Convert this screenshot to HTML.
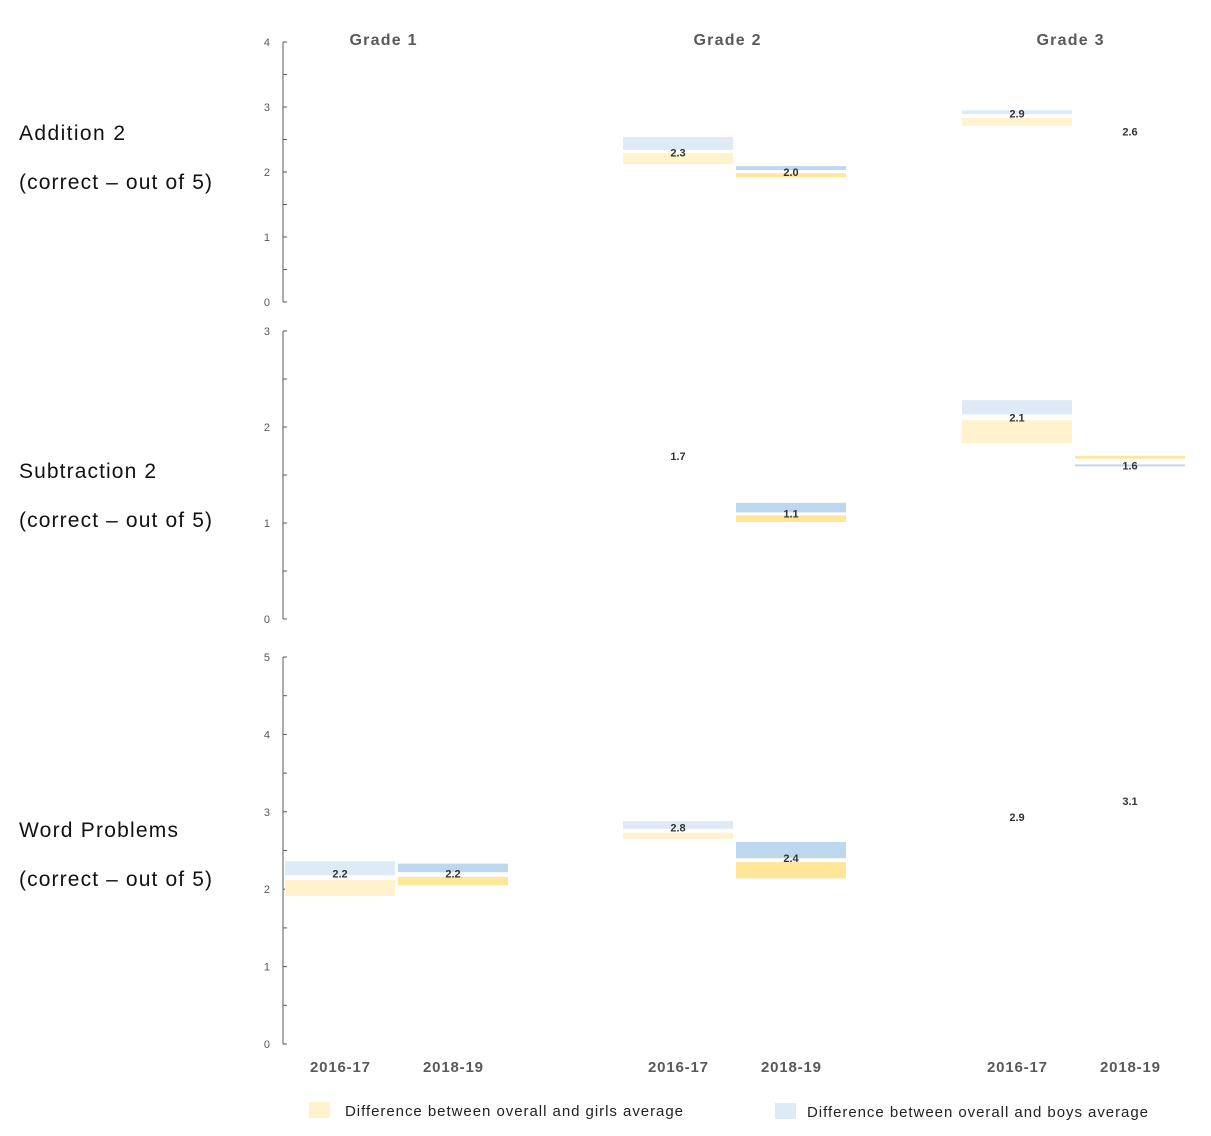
<!DOCTYPE html>
<html><head><meta charset="utf-8"><style>
body{margin:0;background:#fff;}
svg{display:block;font-family:"Liberation Sans",sans-serif;}
</style></head><body>
<svg id="chart" width="1211" height="1136">
<g font-size="21" fill="#111">
<text x="19" y="140" textLength="106">Addition 2</text>
<text x="19" y="189" textLength="193">(correct – out of 5)</text>
<text x="19" y="478" textLength="137">Subtraction 2</text>
<text x="19" y="527" textLength="193">(correct – out of 5)</text>
<text x="19" y="837" textLength="159">Word Problems</text>
<text x="19" y="886" textLength="193">(correct – out of 5)</text>
</g>
<g font-size="16" font-weight="bold" fill="#595959" text-anchor="middle">
<text x="383" y="45" textLength="67">Grade 1</text>
<text x="727" y="45" textLength="67">Grade 2</text>
<text x="1070" y="45" textLength="67">Grade 3</text>
</g>
<g id="plot"></g>
<g font-size="15" font-weight="bold" fill="#595959" text-anchor="middle">
<text x="340" y="1072" textLength="60">2016-17</text>
<text x="453" y="1072" textLength="60">2018-19</text>
<text x="678" y="1072" textLength="60">2016-17</text>
<text x="791" y="1072" textLength="60">2018-19</text>
<text x="1017" y="1072" textLength="60">2016-17</text>
<text x="1130" y="1072" textLength="60">2018-19</text>
</g>
<g font-size="15" fill="#222">
<rect x="309" y="1102" width="21" height="16" fill="#fff2cc"/>
<text x="345" y="1116" textLength="338">Difference between overall and girls average</text>
<rect x="775" y="1103" width="21" height="16" fill="#deebf7"/>
<text x="807" y="1117" textLength="341">Difference between overall and boys average</text>
</g>
</svg>
<script>
// panels
const panelNames = ["addition","subtraction","word-problems"];
const panelMax = [4,3,5];
const panelMinorStep = [0.5,0.5,0.5];
// bars: order per panel = g1-2016, g1-2018, g2-2016, g2-2018, g3-2016, g3-2018
const columnLabels = ["g1-2016","g1-2018","g2-2016","g2-2018","g3-2016","g3-2018"];
const overallValues = [
 [null,null,2.3,2.0,2.9,2.62],
 [null,null,1.70,1.1,2.1,1.6],
 [2.2,2.2,2.8,2.4,2.93,3.14]
];
const boysHigh = [
 [null,null,2.54,2.09,2.95,null],
 [null,null,null,1.21,2.28,1.61],
 [2.36,2.33,2.88,2.61,null,null]
];
const boysLow = [
 [null,null,2.34,2.03,2.89,null],
 [null,null,null,1.11,2.13,1.59],
 [2.18,2.22,2.78,2.40,null,null]
];
const girlsHigh = [
 [null,null,2.29,1.98,2.83,null],
 [null,null,null,1.08,2.07,1.70],
 [2.12,2.16,2.73,2.35,null,null]
];
const girlsLow = [
 [null,null,2.12,1.92,2.71,null],
 [null,null,null,1.01,1.83,1.67],
 [1.91,2.05,2.65,2.14,null,null]
];
const labelText = [
 [null,null,"2.3","2.0","2.9","2.6"],
 [null,null,"1.7","1.1","2.1","1.6"],
 ["2.2","2.2","2.8","2.4","2.9","3.1"]
];
const panelTop=[42,331,657], panelBottom=[302,619,1044];
const colX=[340,453,678,791,1017,1130];
const axisX=283, barW=110;
const NS="http://www.w3.org/2000/svg";
const plot=document.getElementById("plot");
function mk(t,a){const e=document.createElementNS(NS,t);for(const k in a)e.setAttribute(k,a[k]);return e;}
panelNames.forEach((pn,p)=>{
 const y=v=>panelBottom[p]-v/panelMax[p]*(panelBottom[p]-panelTop[p]);
 const g=mk("g",{});
 
 
 plot.appendChild(g);
 const ax=mk("line",{x1:axisX,x2:axisX,y1:panelTop[p],y2:panelBottom[p],stroke:"#595959","stroke-width":1});
 
 
 g.appendChild(ax);
 for(let v=0;v<=panelMax[p]+1e-9;v+=panelMinorStep[p]){
  const t=mk("line",{x1:axisX,x2:axisX+4,y1:y(v),y2:y(v),stroke:"#595959"});
  
  
  g.appendChild(t);
  if(Math.abs(v-Math.round(v))<1e-9){
   const tl=mk("text",{x:axisX-13,y:y(v)+4,"font-size":11,fill:"#595959","text-anchor":"end"});
   tl.textContent=Math.round(v);
   
   
   g.appendChild(tl);
  }
 }
 columnLabels.forEach((c,i)=>{
  const x=colX[i]-barW/2, dark=(i%2==1);
  if(boysHigh[p][i]!=null){
   const r=mk("rect",{x:x,width:barW,y:y(boysHigh[p][i]),height:y(boysLow[p][i])-y(boysHigh[p][i]),fill:dark?"#bdd7ee":"#deebf7"});
   
   
   g.appendChild(r);
  }
  if(girlsHigh[p][i]!=null){
   const r=mk("rect",{x:x,width:barW,y:y(girlsHigh[p][i]),height:y(girlsLow[p][i])-y(girlsHigh[p][i]),fill:dark?"#ffe699":"#fff2cc"});
   
   
   g.appendChild(r);
  }
  if(overallValues[p][i]!=null){
   const t=mk("text",{x:colX[i],y:y(overallValues[p][i])+4,"font-size":11,"font-weight":"bold",fill:"#333","text-anchor":"middle"});
   t.textContent=labelText[p][i];
   
   
   g.appendChild(t);
  }
 });
});
</script>
</body></html>
